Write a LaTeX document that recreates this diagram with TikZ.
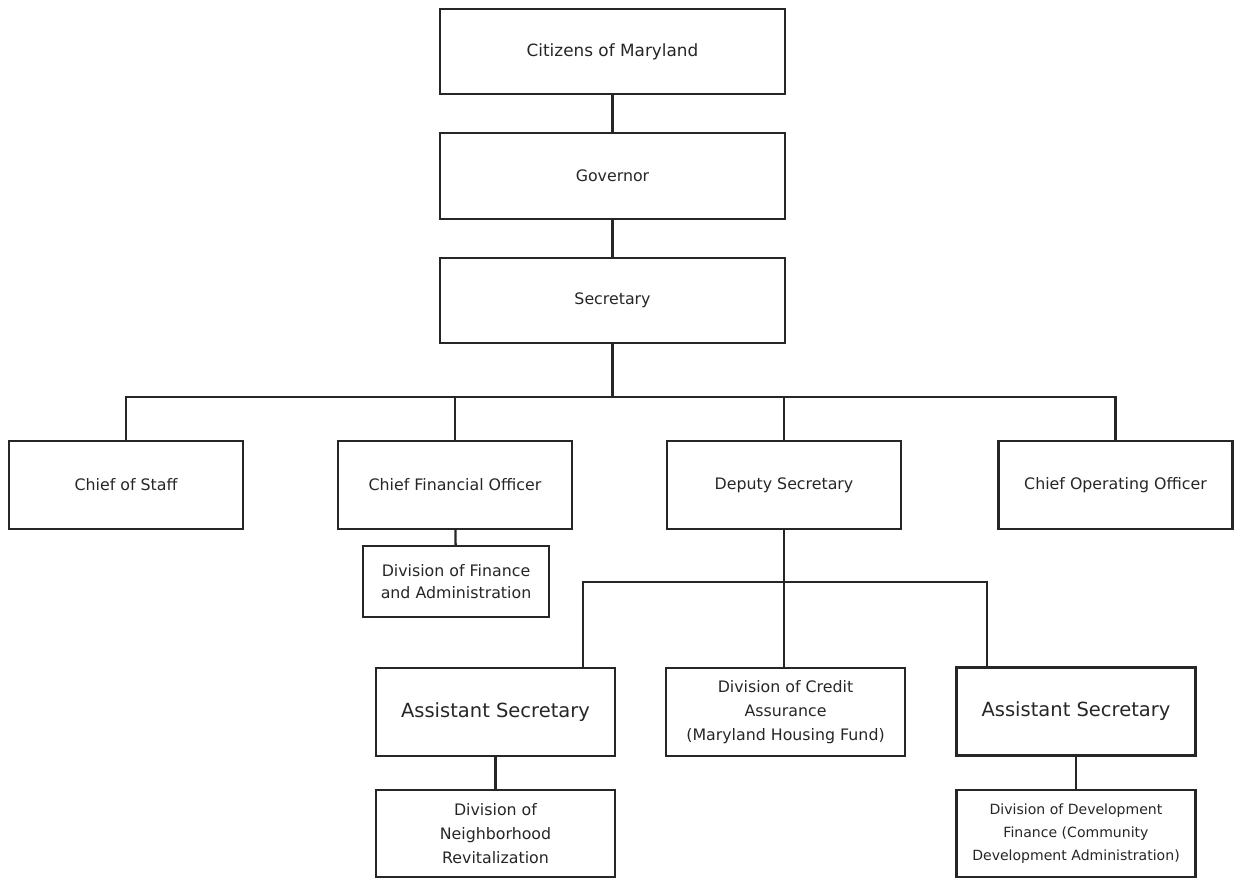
\documentclass[tikz,border=0pt]{standalone}
\usepackage{fontspec}
\setmainfont{DejaVu Sans}

\begin{document}
\begin{tikzpicture}[x=0.02cm,y=-0.02cm,text centered,
  every node/.style={align=center,inner sep=0pt,text=black!85},
  unit/.style={draw=black!85,line width=1.3pt,minimum width=4.68cm,minimum height=1.76cm,
               font=\fontsize{9}{13.6}\selectfont},
  topunit/.style={unit,minimum width=6.9cm,minimum height=1.71cm},
  subunit/.style={unit,minimum width=4.78cm},
  link/.style={draw=black!85,line width=1.3pt}]

\useasboundingbox (0,0) rectangle (1235,877);

\node (cit) at (612.5,51.5) [topunit,font=\fontsize{9.6}{12}\selectfont] {Citizens of Maryland};
\node (gov) at (612.5,176) [topunit] {Governor};
\node (sec) at (612.5,300.5) [topunit] {Secretary};

\node (cos) at (126,485) [unit] {Chief of Staff};
\node (cfo) at (455,485) [unit] {Chief Financial Officer};
\node (dep) at (784,485) [unit] {Deputy Secretary};
\node (coo) at (1115.5,485) [unit] {Chief Operating Officer};

\node (fin) at (456,581.5) [unit,minimum width=3.72cm,minimum height=1.42cm,
  font=\fontsize{9}{12.7}\selectfont] {Division of Finance\\ and Administration};

\node (as1) at (495.5,712) [subunit,font=\fontsize{11.1}{13}\selectfont] {Assistant Secretary};
\node (cred) at (785.5,712) [subunit] {Division of Credit\\ Assurance\\ (Maryland Housing Fund)};
\node (as2) at (1076,711.5) [subunit,font=\fontsize{11.1}{13}\selectfont] {Assistant Secretary};

\node (nbr) at (495.5,833.5) [subunit,minimum height=1.74cm] {Division of\\ Neighborhood\\ Revitalization};
\node (dev) at (1076,833.5) [subunit,minimum height=1.74cm,font=\fontsize{8}{13}\selectfont]
  {Division of Development\\ Finance (Community\\ Development Administration)};

\coordinate (bus) at (612.5,397);
\coordinate (subL) at (583,582);
\coordinate (subR) at (987,582);

\draw[link] (cit) -- (gov);
\draw[link] (gov) -- (sec);
\draw[link] (sec) -- (bus);
\draw[link] (cos.north) |- (bus) -| (coo.north);
\draw[link] (cfo.north) -- (cfo.north |- bus);
\draw[link] (dep.north) -- (dep.north |- bus);
\draw[link] (cfo) -- (fin);
\draw[link] (dep.south) -- (dep.south |- cred.north);
\draw[link] (subL |- as1.north) -- (subL) -- (subR) -- (subR |- as2.north);
\draw[link] (as1) -- (nbr);
\draw[link] (as2) -- (dev);

\end{tikzpicture}
\end{document}
